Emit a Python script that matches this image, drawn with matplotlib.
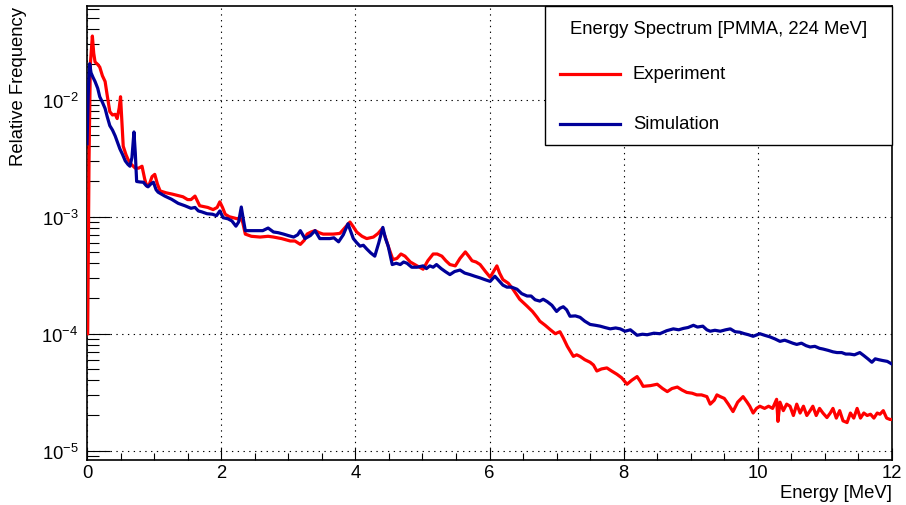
import numpy as np
import matplotlib
matplotlib.use("Agg")
import matplotlib.pyplot as plt
from matplotlib.patches import Rectangle
from matplotlib.lines import Line2D
from matplotlib.ticker import LogLocator, MultipleLocator, NullFormatter

plt.rcParams['font.family'] = ['Liberation Sans', 'DejaVu Sans']
plt.rcParams['mathtext.fontset'] = 'custom'
plt.rcParams['mathtext.rm'] = 'Liberation Sans'

# Experiment (red)
exp_e = [0.01, 0.03, 0.05, 0.08, 0.10, 0.12, 0.16, 0.19, 0.23, 0.27, 0.30, 0.34, 0.38, 0.42,
         0.45, 0.48, 0.50, 0.52, 0.54, 0.58, 0.61, 0.66, 0.72, 0.77, 0.82, 0.86, 0.89, 0.93,
         0.97, 1.01, 1.05, 1.09, 1.18, 1.27, 1.35, 1.43, 1.50, 1.55, 1.61, 1.68, 1.74, 1.80,
         1.88, 1.94, 1.98, 2.02, 2.06, 2.12, 2.18, 2.24, 2.28, 2.32, 2.36, 2.45, 2.58, 2.70,
         2.78, 2.90, 3.03, 3.10, 3.18, 3.24, 3.28, 3.34, 3.40, 3.46, 3.52, 3.60, 3.67, 3.77,
         3.84, 3.92, 3.97, 4.02, 4.10, 4.17, 4.27, 4.34, 4.40, 4.45, 4.49, 4.56, 4.62, 4.68,
         4.74, 4.82, 4.92, 5.01, 5.08, 5.16, 5.22, 5.29, 5.35, 5.41, 5.49, 5.56, 5.64, 5.69,
         5.74, 5.80, 5.86, 5.94, 6.01, 6.06, 6.11, 6.15, 6.20, 6.28, 6.35, 6.45, 6.56, 6.64,
         6.71, 6.75, 6.83, 6.90, 6.98, 7.05, 7.10, 7.16, 7.25, 7.30, 7.35, 7.42, 7.50, 7.55,
         7.60, 7.67, 7.75, 7.82, 7.90, 7.97, 8.05, 8.12, 8.20, 8.25, 8.29, 8.40, 8.50, 8.58,
         8.65, 8.72, 8.80, 8.87, 8.94, 9.02, 9.09, 9.16, 9.24, 9.29, 9.35, 9.39, 9.44, 9.50,
         9.56, 9.63, 9.70, 9.78, 9.84, 9.88, 9.93, 9.98, 10.03, 10.10, 10.16, 10.22, 10.28,
         10.30, 10.33, 10.38, 10.43, 10.48, 10.53, 10.58, 10.63, 10.68, 10.73, 10.78, 10.82,
         10.87, 10.92, 10.97, 11.03, 11.08, 11.12, 11.17, 11.22, 11.27, 11.33, 11.38, 11.43,
         11.48, 11.53, 11.58, 11.63, 11.68, 11.73, 11.78, 11.82, 11.87, 11.92, 11.97, 12.0]
exp_val = [1.0e-4, 3e-3, 0.020, 0.035, 0.025, 0.021, 0.020, 0.019, 0.016, 0.0143, 0.011, 0.0079,
           0.0074, 0.0075, 0.0069, 0.0085, 0.0106, 0.0065, 0.0040, 0.0034, 0.0031, 0.0028,
           0.0026, 0.0026, 0.0027, 0.0021, 0.00183, 0.0019, 0.0022, 0.0023, 0.0019, 0.00166,
           0.0016, 0.00156, 0.00152, 0.00148, 0.0014, 0.0014, 0.0015, 0.00124, 0.00122, 0.0012,
           0.00115, 0.0012, 0.00134, 0.0012, 0.00105, 0.00100, 0.00098, 0.00096, 0.00098,
           0.00090, 0.00071, 0.00068, 0.00067, 0.00068, 0.00067, 0.00065, 0.00062, 0.00062,
           0.00058, 0.00063, 0.00071, 0.00074, 0.00076, 0.00073, 0.00071, 0.00071, 0.00071,
           0.00072, 0.00080, 0.00090, 0.00082, 0.00074, 0.00068, 0.00065, 0.00067, 0.00072,
           0.00079, 0.00066, 0.00056, 0.00043, 0.00044, 0.00048, 0.00046, 0.00041, 0.00038,
           0.000356, 0.00042, 0.00048, 0.00048, 0.00046, 0.00042, 0.00039, 0.00038, 0.00044,
           0.00050, 0.00046, 0.00042, 0.00041, 0.00039, 0.00034, 0.000304, 0.00034, 0.00038,
           0.00033, 0.00029, 0.00027, 0.00024, 0.000197, 0.000172, 0.000155, 0.000138, 0.000128,
           0.000118, 0.000109, 0.000100, 0.000104, 0.000092, 7.8e-5, 6.4e-5, 6.6e-5, 6.4e-5,
           6.0e-5, 5.7e-5, 5.4e-5, 4.8e-5, 5.0e-5, 5.1e-5, 4.8e-5, 4.5e-5, 4.2e-5, 3.7e-5,
           4.0e-5, 4.3e-5, 3.9e-5, 3.55e-5, 3.6e-5, 3.7e-5, 3.4e-5, 3.2e-5, 3.4e-5, 3.5e-5,
           3.3e-5, 3.15e-5, 3.1e-5, 3.0e-5, 3.0e-5, 2.9e-5, 2.5e-5, 2.7e-5, 3.0e-5, 2.9e-5,
           2.8e-5, 2.5e-5, 2.16e-5, 2.6e-5, 2.9e-5, 2.6e-5, 2.4e-5, 2.1e-5, 2.3e-5, 2.4e-5,
           2.3e-5, 2.4e-5, 2.3e-5, 2.75e-5, 1.78e-5, 2.6e-5, 2.2e-5, 2.5e-5, 2.4e-5, 2.0e-5,
           2.5e-5, 2.1e-5, 2.4e-5, 2.0e-5, 2.2e-5, 2.4e-5, 2.0e-5, 2.3e-5, 2.1e-5, 1.92e-5,
           2.1e-5, 2.3e-5, 1.9e-5, 2.2e-5, 1.8e-5, 1.74e-5, 2.1e-5, 1.9e-5, 2.3e-5, 1.9e-5,
           2.1e-5, 2.0e-5, 2.05e-5, 1.9e-5, 2.1e-5, 2.05e-5, 2.2e-5, 1.9e-5, 1.85e-5, 1.85e-5]

# Simulation (blue)
sim_e = [0.0, 0.02, 0.04, 0.06, 0.09, 0.12, 0.16, 0.19, 0.23, 0.27, 0.30, 0.34, 0.38, 0.42,
         0.45, 0.49, 0.53, 0.57, 0.61, 0.64, 0.67, 0.70, 0.72, 0.74, 0.79, 0.84, 0.88, 0.91,
         0.95, 0.99, 1.03, 1.06, 1.16, 1.26, 1.36, 1.46, 1.55, 1.61, 1.66, 1.71, 1.79, 1.87,
         1.93, 1.98, 2.03, 2.10, 2.16, 2.22, 2.26, 2.30, 2.33, 2.36, 2.43, 2.52, 2.62, 2.70,
         2.78, 2.85, 2.93, 3.00, 3.08, 3.14, 3.18, 3.25, 3.33, 3.40, 3.47, 3.55, 3.62, 3.68,
         3.75, 3.82, 3.89, 3.93, 3.97, 4.02, 4.07, 4.12, 4.17, 4.23, 4.29, 4.35, 4.41, 4.45,
         4.49, 4.55, 4.61, 4.67, 4.72, 4.77, 4.84, 4.92, 5.01, 5.06, 5.11, 5.16, 5.21, 5.28,
         5.34, 5.41, 5.48, 5.56, 5.63, 5.71, 5.78, 5.86, 5.93, 6.01, 6.08, 6.15, 6.20, 6.26,
         6.33, 6.41, 6.48, 6.56, 6.62, 6.68, 6.75, 6.80, 6.86, 6.93, 7.00, 7.05, 7.10, 7.15,
         7.20, 7.28, 7.35, 7.42, 7.50, 7.58, 7.65, 7.72, 7.80, 7.88, 7.95, 8.02, 8.10, 8.20,
         8.28, 8.35, 8.45, 8.54, 8.64, 8.74, 8.82, 8.89, 8.96, 9.04, 9.10, 9.18, 9.24, 9.29,
         9.36, 9.44, 9.52, 9.59, 9.66, 9.73, 9.80, 9.86, 9.93, 10.03, 10.10, 10.18, 10.26,
         10.33, 10.40, 10.45, 10.52, 10.58, 10.65, 10.72, 10.78, 10.85, 10.92, 10.97, 11.05,
         11.12, 11.18, 11.25, 11.31, 11.37, 11.44, 11.52, 11.58, 11.64, 11.70, 11.75, 11.80,
         11.86, 11.93, 12.0]
sim_val = [0.0042, 0.012, 0.0203, 0.017, 0.0155, 0.0143, 0.0125, 0.0106, 0.0095, 0.0084, 0.0072,
           0.0060, 0.0055, 0.0049, 0.0044, 0.0038, 0.0034, 0.0030, 0.0028, 0.0027, 0.0032,
           0.0053, 0.0035, 0.0020, 0.00198, 0.00197, 0.00185, 0.0018, 0.0019, 0.00197, 0.0017,
           0.00162, 0.0015, 0.00141, 0.0013, 0.00124, 0.00118, 0.0012, 0.00112, 0.0011,
           0.00106, 0.00105, 0.00102, 0.00112, 0.00098, 0.00096, 0.00092, 0.00083, 0.00090,
           0.00121, 0.00095, 0.00076, 0.00076, 0.00076, 0.00076, 0.0008, 0.00074, 0.00073,
           0.00071, 0.00069, 0.00067, 0.00070, 0.00076, 0.00065, 0.00069, 0.00076, 0.00065,
           0.00065, 0.00065, 0.00066, 0.00061, 0.00070, 0.00087, 0.00075, 0.00065, 0.00060,
           0.00056, 0.00057, 0.00053, 0.00049, 0.00046, 0.00060, 0.00081, 0.00065, 0.00056,
           0.00039, 0.00040, 0.00039, 0.00041, 0.00040, 0.00037, 0.00037, 0.00038, 0.00036,
           0.00038, 0.00037, 0.00039, 0.00036, 0.00034, 0.00032, 0.00034, 0.00035, 0.00033,
           0.00032, 0.00031, 0.00030, 0.00029, 0.00028, 0.00031, 0.00028, 0.00026, 0.00025,
           0.00025, 0.00024, 0.00022, 0.00021, 0.00021, 0.000195, 0.00019, 0.000197, 0.000188,
           0.000175, 0.000155, 0.000165, 0.00017, 0.00016, 0.000141, 0.000142, 0.000138,
           0.000128, 0.00012, 0.000118, 0.000116, 0.000113, 0.00011, 0.000112, 0.00011,
           0.000105, 0.000108, 9.7e-5, 9.9e-5, 9.8e-5, 0.000101, 0.0001, 0.000106, 0.00011,
           0.000108, 0.000111, 0.000113, 0.000118, 0.000114, 0.000116, 0.000108, 0.000105,
           0.000107, 0.000105, 0.000108, 0.00011, 0.000104, 0.000103, 0.0001, 9.8e-5, 9.5e-5,
           0.0001, 9.7e-5, 9.4e-5, 9.0e-5, 8.6e-5, 8.8e-5, 8.6e-5, 8.3e-5, 8.1e-5, 8.3e-5,
           7.9e-5, 7.7e-5, 7.8e-5, 7.5e-5, 7.4e-5, 7.2e-5, 7.0e-5, 6.9e-5, 6.9e-5, 6.7e-5,
           6.7e-5, 6.6e-5, 6.9e-5, 6.5e-5, 6.1e-5, 5.7e-5, 6.1e-5, 6.0e-5, 5.9e-5, 5.8e-5, 5.5e-5]

legend_title = "Energy Spectrum [PMMA, 224 MeV]"
labels = ["Experiment", "Simulation"]
colors = ["#ff0000", "#000099"]

fs = 13.3

fig = plt.figure(figsize=(9.06, 5.06), dpi=100)
ax = fig.add_axes([87/906, 1 - 461/506, 805/906, 454/506])

ax.plot(exp_e, exp_val, color=colors[0], lw=2.3, zorder=3)
ax.plot(sim_e, sim_val, color=colors[1], lw=2.3, zorder=4)

ax.set_yscale('log')
ax.set_xlim(0, 12)
ax.set_ylim(8.33e-6, 0.0632)

ax.xaxis.set_major_locator(MultipleLocator(2))
ax.xaxis.set_minor_locator(MultipleLocator(0.5))
ax.yaxis.set_major_locator(LogLocator(base=10, numticks=10))
ax.yaxis.set_minor_locator(LogLocator(base=10, subs=np.arange(2, 10), numticks=20))
ax.yaxis.set_minor_formatter(NullFormatter())

ax.tick_params(which='both', direction='in', top=False, right=False, color='black',
               labelsize=fs, width=0.8)
ax.tick_params(axis='x', which='major', length=8.6, pad=3)
ax.tick_params(axis='x', which='minor', length=5)
ax.tick_params(axis='y', which='major', length=16.5, pad=6)
ax.tick_params(axis='y', which='minor', length=8.6)

for s in ax.spines.values():
    s.set_linewidth(1.2)

ax.grid(True, which='major', color='black', lw=0.8, linestyle=(0, (1.2, 4)), zorder=1)

ax.set_xlabel("Energy [MeV]", fontsize=fs, loc='right')
ax.xaxis.set_label_coords(1.0, -0.053)
ax.set_ylabel("Relative Frequency", fontsize=fs, loc='top')
ax.yaxis.set_label_coords(-0.0745, 1.0)

# legend box (ROOT style)
lx0 = (545 - 87) / 805
ly0 = (461 - 146) / 454
ax.add_patch(Rectangle((lx0, ly0), 1 - lx0, 1 - ly0, transform=ax.transAxes,
                       facecolor='white', edgecolor='black', lw=1.0, zorder=10, clip_on=False))
ax.text(((545 + 892) / 2 - 87) / 805, (461 - 30) / 454, legend_title, transform=ax.transAxes,
        ha='center', va='center', fontsize=fs, zorder=11)
for i, (lab, col) in enumerate(zip(labels, colors)):
    yy = (461 - (75 + 50 * i)) / 454
    ax.add_line(Line2D([(560 - 87) / 805, (620 - 87) / 805], [yy, yy], transform=ax.transAxes,
                       color=col, lw=2.3, zorder=11, clip_on=False))
    ax.text((633 - 87) / 805, yy, lab, transform=ax.transAxes, ha='left', va='center',
            fontsize=fs, zorder=11)

fig.savefig("out.png", dpi=100)
